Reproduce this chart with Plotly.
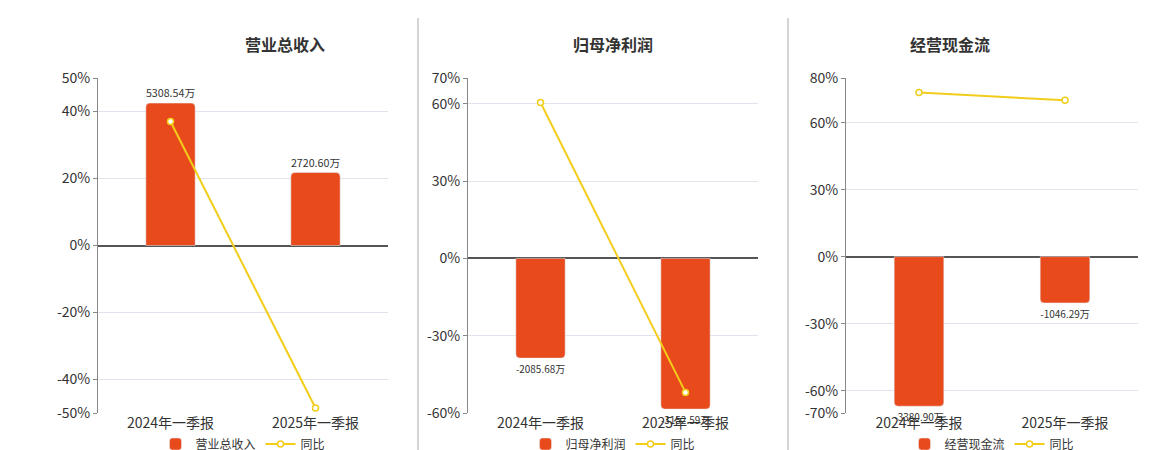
import plotly.graph_objects as go

cats = ["2024年一季报", "2025年一季报"]
titles = ["营业总收入", "归母净利润", "经营现金流"]
bar_vals = [[5308.54, 2720.60], [-2085.68, -3152.59], [-3380.90, -1046.29]]
yoy_vals = [[37.0, -48.5], [60.5, -52.0], [73.5, 70.0]]
ranges = [[-50, 50], [-60, 70], [-70, 80]]
tickvals = [[-50, -40, -20, 0, 20, 40, 50], [-60, -30, 0, 30, 60, 70], [-70, -60, -30, 0, 30, 60, 80]]
scale = [124.9, 53.9, 50.5]

W, H = 1160, 450
xdom = [(90, 380), (460, 750), (838, 1130)]
ydom = [1 - 405 / H, 1 - 70 / H]
BAR, LINE = "#E84A1C", "#F2CD1A"
font = "Noto Sans CJK SC, Noto Sans, sans-serif"

fig = go.Figure()
lay = {}
shapes, annos = [], []
for i in range(3):
    n = i + 1
    xa = "x" if n == 1 else f"x{n}"
    ya_b = f"y{2*n-1}" if n > 1 else "y"
    ya_l = f"y{2*n}"
    lg = "legend" if n == 1 else f"legend{n}"
    labels = [f"{v:.2f}万" for v in bar_vals[i]]
    fig.add_trace(go.Bar(x=cats, y=bar_vals[i], xaxis=xa, yaxis=ya_b, name=titles[i],
                         marker_color=BAR, width=0.34, text=labels, textposition="outside",
                         textfont=dict(size=12, color="#333"), cliponaxis=False, legend=lg))
    fig.add_trace(go.Scatter(x=cats, y=yoy_vals[i], xaxis=xa, yaxis=ya_l, name="同比",
                             mode="lines+markers", line=dict(color=LINE, width=2),
                             marker=dict(size=6, color="white", line=dict(color=LINE, width=1.5)),
                             legend=lg, cliponaxis=False))
    d = [xdom[i][0] / W, xdom[i][1] / W]
    xk = "xaxis" if n == 1 else f"xaxis{n}"
    ykb = "yaxis" if n == 1 else f"yaxis{2*n-1}"
    ykl = f"yaxis{2*n}"
    lay[xk] = dict(domain=d, anchor=ya_b, showgrid=False, tickfont=dict(size=14, color="#333"),
                   showline=False, ticks="", automargin=False)
    lay[ykb] = dict(domain=ydom, anchor=xa, range=[r * scale[i] for r in ranges[i]],
                    visible=False, showgrid=False, zeroline=False, automargin=False)
    lay[ykl] = dict(overlaying=ya_b, anchor=xa, side="left", range=ranges[i], tickvals=tickvals[i],
                    ticktext=[f"{v}%" for v in tickvals[i]], gridcolor="#e3e3ee",
                    zeroline=True, zerolinecolor="#555", zerolinewidth=1.5,
                    showline=True, linecolor="#888", ticks="outside", ticklen=4, tickcolor="#888",
                    tickfont=dict(size=14, color="#333"), automargin=False)
    lay[lg] = dict(orientation="h", x=(d[0] + d[1]) / 2, xanchor="center", y=1 - 436 / H,
                   yanchor="middle", font=dict(size=12, color="#333"), bgcolor="rgba(0,0,0,0)")
    annos.append(dict(text=f"<b>{titles[i]}</b>", x=(d[0] + d[1]) / 2, y=1 - 22 / H,
                      xref="paper", yref="paper", showarrow=False, font=dict(size=16, color="#333")))
for xp in (410, 780):
    shapes.append(dict(type="line", xref="paper", yref="paper", x0=xp / W, x1=xp / W,
                       y0=1 - 445 / H, y1=1 - 10 / H, line=dict(color="#aaa", width=1)))

fig.update_layout(width=W, height=H, margin=dict(l=0, r=0, t=0, b=0, autoexpand=False),
                  plot_bgcolor="white", paper_bgcolor="white", font=dict(family=font),
                  barcornerradius=4, shapes=shapes, annotations=annos, **lay)
fig.write_html("out.html")
